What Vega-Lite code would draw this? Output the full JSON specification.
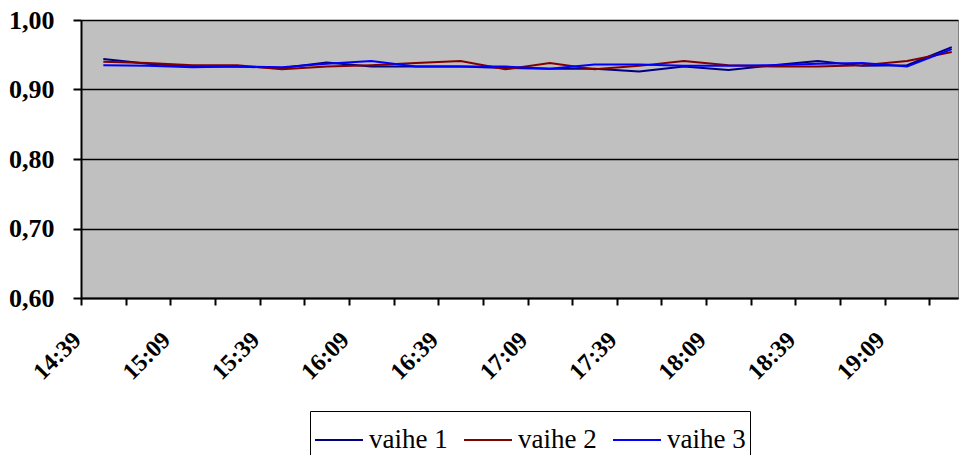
{
  "$schema": "https://vega.github.io/schema/vega-lite/v6.json",
  "width": 877,
  "height": 278,
  "autosize": "none",
  "padding": {"left": 81, "top": 20, "right": 10, "bottom": 157},
  "background": "white",
  "config": {
    "view": {"fill": "#C0C0C0", "stroke": "#808080", "strokeWidth": 1}
  },
  "data": {
    "format": {"parse": {"t": "date:'%H:%M'"}},
    "values": [
      {"t": "14:39", "s": "vaihe 1", "v": 0.944}, {"t": "14:39", "s": "vaihe 2", "v": 0.940}, {"t": "14:39", "s": "vaihe 3", "v": 0.935},
      {"t": "14:54", "s": "vaihe 1", "v": 0.937}, {"t": "14:54", "s": "vaihe 2", "v": 0.938}, {"t": "14:54", "s": "vaihe 3", "v": 0.934},
      {"t": "15:09", "s": "vaihe 1", "v": 0.933}, {"t": "15:09", "s": "vaihe 2", "v": 0.935}, {"t": "15:09", "s": "vaihe 3", "v": 0.932},
      {"t": "15:24", "s": "vaihe 1", "v": 0.933}, {"t": "15:24", "s": "vaihe 2", "v": 0.935}, {"t": "15:24", "s": "vaihe 3", "v": 0.933},
      {"t": "15:39", "s": "vaihe 1", "v": 0.931}, {"t": "15:39", "s": "vaihe 2", "v": 0.929}, {"t": "15:39", "s": "vaihe 3", "v": 0.932},
      {"t": "15:54", "s": "vaihe 1", "v": 0.939}, {"t": "15:54", "s": "vaihe 2", "v": 0.933}, {"t": "15:54", "s": "vaihe 3", "v": 0.937},
      {"t": "16:09", "s": "vaihe 1", "v": 0.933}, {"t": "16:09", "s": "vaihe 2", "v": 0.935}, {"t": "16:09", "s": "vaihe 3", "v": 0.941},
      {"t": "16:24", "s": "vaihe 1", "v": 0.933}, {"t": "16:24", "s": "vaihe 2", "v": 0.938}, {"t": "16:24", "s": "vaihe 3", "v": 0.933},
      {"t": "16:39", "s": "vaihe 1", "v": 0.933}, {"t": "16:39", "s": "vaihe 2", "v": 0.941}, {"t": "16:39", "s": "vaihe 3", "v": 0.933},
      {"t": "16:54", "s": "vaihe 1", "v": 0.931}, {"t": "16:54", "s": "vaihe 2", "v": 0.929}, {"t": "16:54", "s": "vaihe 3", "v": 0.933},
      {"t": "17:09", "s": "vaihe 1", "v": 0.930}, {"t": "17:09", "s": "vaihe 2", "v": 0.938}, {"t": "17:09", "s": "vaihe 3", "v": 0.930},
      {"t": "17:24", "s": "vaihe 1", "v": 0.930}, {"t": "17:24", "s": "vaihe 2", "v": 0.929}, {"t": "17:24", "s": "vaihe 3", "v": 0.936},
      {"t": "17:39", "s": "vaihe 1", "v": 0.926}, {"t": "17:39", "s": "vaihe 2", "v": 0.934}, {"t": "17:39", "s": "vaihe 3", "v": 0.936},
      {"t": "17:54", "s": "vaihe 1", "v": 0.933}, {"t": "17:54", "s": "vaihe 2", "v": 0.941}, {"t": "17:54", "s": "vaihe 3", "v": 0.934},
      {"t": "18:09", "s": "vaihe 1", "v": 0.928}, {"t": "18:09", "s": "vaihe 2", "v": 0.935}, {"t": "18:09", "s": "vaihe 3", "v": 0.934},
      {"t": "18:24", "s": "vaihe 1", "v": 0.935}, {"t": "18:24", "s": "vaihe 2", "v": 0.933}, {"t": "18:24", "s": "vaihe 3", "v": 0.935},
      {"t": "18:39", "s": "vaihe 1", "v": 0.941}, {"t": "18:39", "s": "vaihe 2", "v": 0.933}, {"t": "18:39", "s": "vaihe 3", "v": 0.937},
      {"t": "18:54", "s": "vaihe 1", "v": 0.934}, {"t": "18:54", "s": "vaihe 2", "v": 0.935}, {"t": "18:54", "s": "vaihe 3", "v": 0.938},
      {"t": "19:09", "s": "vaihe 1", "v": 0.935}, {"t": "19:09", "s": "vaihe 2", "v": 0.941}, {"t": "19:09", "s": "vaihe 3", "v": 0.933},
      {"t": "19:24", "s": "vaihe 1", "v": 0.961}, {"t": "19:24", "s": "vaihe 2", "v": 0.954}, {"t": "19:24", "s": "vaihe 3", "v": 0.958}
    ]
  },
  "mark": {"type": "line", "strokeWidth": 2},
  "encoding": {
    "x": {
      "field": "t",
      "type": "temporal",
      "scale": {
        "domain": [
          {"year": 1900, "month": 1, "date": 1, "hours": 14, "minutes": 31, "seconds": 30},
          {"year": 1900, "month": 1, "date": 1, "hours": 19, "minutes": 26, "seconds": 6}
        ]
      },
      "axis": {
        "title": null,
        "grid": false,
        "values": [
          {"year": 1900, "month": 1, "date": 1, "hours": 14, "minutes": 31, "seconds": 30},
          {"year": 1900, "month": 1, "date": 1, "hours": 14, "minutes": 46, "seconds": 30},
          {"year": 1900, "month": 1, "date": 1, "hours": 15, "minutes": 1, "seconds": 30},
          {"year": 1900, "month": 1, "date": 1, "hours": 15, "minutes": 16, "seconds": 30},
          {"year": 1900, "month": 1, "date": 1, "hours": 15, "minutes": 31, "seconds": 30},
          {"year": 1900, "month": 1, "date": 1, "hours": 15, "minutes": 46, "seconds": 30},
          {"year": 1900, "month": 1, "date": 1, "hours": 16, "minutes": 1, "seconds": 30},
          {"year": 1900, "month": 1, "date": 1, "hours": 16, "minutes": 16, "seconds": 30},
          {"year": 1900, "month": 1, "date": 1, "hours": 16, "minutes": 31, "seconds": 30},
          {"year": 1900, "month": 1, "date": 1, "hours": 16, "minutes": 46, "seconds": 30},
          {"year": 1900, "month": 1, "date": 1, "hours": 17, "minutes": 1, "seconds": 30},
          {"year": 1900, "month": 1, "date": 1, "hours": 17, "minutes": 16, "seconds": 30},
          {"year": 1900, "month": 1, "date": 1, "hours": 17, "minutes": 31, "seconds": 30},
          {"year": 1900, "month": 1, "date": 1, "hours": 17, "minutes": 46, "seconds": 30},
          {"year": 1900, "month": 1, "date": 1, "hours": 18, "minutes": 1, "seconds": 30},
          {"year": 1900, "month": 1, "date": 1, "hours": 18, "minutes": 16, "seconds": 30},
          {"year": 1900, "month": 1, "date": 1, "hours": 18, "minutes": 31, "seconds": 30},
          {"year": 1900, "month": 1, "date": 1, "hours": 18, "minutes": 46, "seconds": 30},
          {"year": 1900, "month": 1, "date": 1, "hours": 19, "minutes": 1, "seconds": 30},
          {"year": 1900, "month": 1, "date": 1, "hours": 19, "minutes": 16, "seconds": 30}
        ],
        "labelExpr": "(minutes(time(datum.value) + 450000) % 30 == 9) ? timeFormat(time(datum.value) + 450000, '%H:%M') : ''",
        "labelAngle": -45,
        "labelAlign": "right",
        "labelBaseline": "middle",
        "labelOffset": -4,
        "labelPadding": 31,
        "labelFont": "Liberation Serif",
        "labelFontSize": 24,
        "labelFontWeight": "bold",
        "labelColor": "black",
        "labelOverlap": false,
        "labelFlush": false,
        "labelBound": false,
        "domainColor": "black",
        "domainWidth": 2,
        "tickColor": "black",
        "tickWidth": 2,
        "tickSize": 7
      }
    },
    "y": {
      "field": "v",
      "type": "quantitative",
      "scale": {"domain": [0.6, 1.0], "zero": false, "nice": false},
      "axis": {
        "title": null,
        "values": [0.6, 0.7, 0.8, 0.9, 1.0],
        "labelExpr": "replace(format(datum.value, '.2f'), '.', ',')",
        "labelFont": "Liberation Serif",
        "labelFontSize": 26,
        "labelFontWeight": "bold",
        "labelColor": "black",
        "labelPadding": 19,
        "labelFlush": false,
        "grid": true,
        "gridColor": "black",
        "gridWidth": 1.5,
        "domainColor": "black",
        "domainWidth": 2,
        "tickColor": "black",
        "tickWidth": 2,
        "tickSize": 8
      }
    },
    "color": {
      "field": "s",
      "type": "nominal",
      "scale": {"domain": ["vaihe 1", "vaihe 2", "vaihe 3"], "range": ["#000080", "#800000", "#0000FF"]},
      "legend": {
        "title": null,
        "orient": "none",
        "direction": "horizontal",
        "legendX": 229,
        "legendY": 391,
        "symbolType": "stroke",
        "symbolSize": 2304,
        "symbolStrokeWidth": 2,
        "labelFont": "Liberation Serif",
        "labelFontSize": 27,
        "labelColor": "black",
        "labelOffset": 5,
        "columnPadding": 12,
        "padding": 4,
        "strokeColor": "black",
        "fillColor": "white"
      }
    }
  }
}
